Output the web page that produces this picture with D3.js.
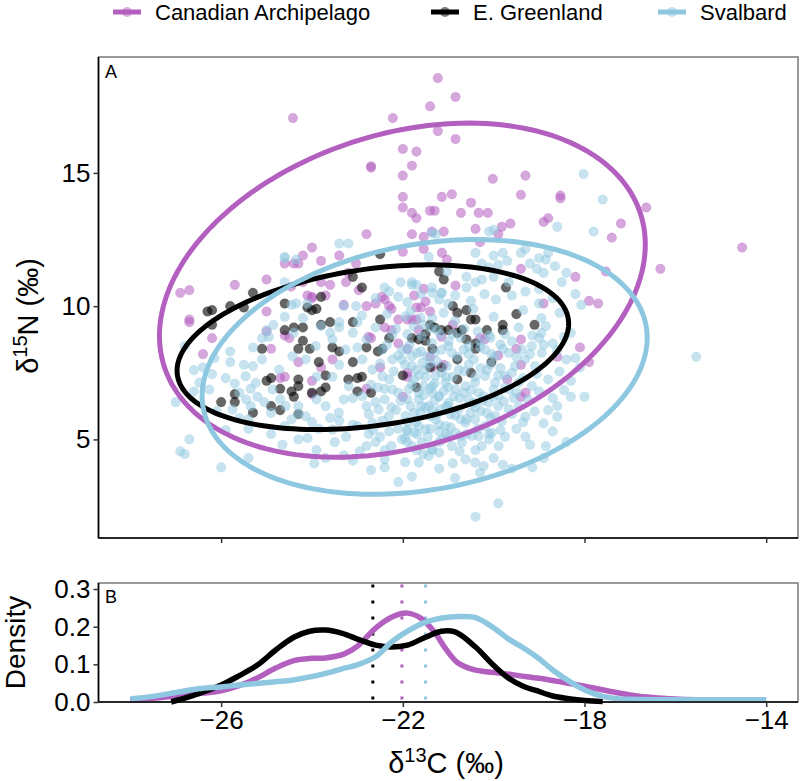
<!DOCTYPE html>
<html><head><meta charset="utf-8">
<script src="https://cdn.jsdelivr.net/npm/d3@7"></script>
<style>body{margin:0;background:#fff} svg{display:block} text{font-family:"Liberation Sans",Arial,sans-serif;fill:#000}</style>
</head><body><svg id="c" width="800" height="781"></svg>
<script>
const groups = ["Canadian Archipelago", "E. Greenland", "Svalbard"];
const colors = ["#B35FBF", "#000000", "#8EC7E0"];
const xTicks = [-26, -22, -18, -14];
const yTicksA = [5, 10, 15];
const yTicksB = [0, 0.1, 0.2, 0.3];

const caPoints = [[-21.23,18.56],[-21.4,17.5],[-24.42,17.06],[-22.22,17.06],[-21.23,16.57],[-22.0,15.9],[-21.7,15.8],[-22.7,15.25],[-22.7,15.2],[-21.8,15.27],[-22.0,14.9],[-22.0,14.1],[-21.14,14.1],[-22.0,13.7],[-21.8,13.5],[-21.7,13.3],[-21.4,13.58],[-21.3,13.58],[-22.8,12.7],[-21.8,12.7],[-21.54,12.6],[-21.36,12.8],[-21.1,12.8],[-22.0,12.04],[-21.54,12.15],[-21.14,12.0],[-24.0,12.2],[-24.2,11.9],[-24.4,11.6],[-24.3,11.6],[-24.6,11.6],[-23.8,11.7],[-23.4,11.9],[-23.03,11.6],[-23.2,11.25],[-23.25,10.9],[-25.0,11.0],[-25.7,10.8],[-26.9,10.5],[-26.7,10.6],[-23.6,10.8],[-22.46,10.35],[-21.75,10.4],[-21.54,10.65],[-24.1,10.4],[-24.46,10.73],[-24.0,10.35],
[-20.84,17.85],[-20.84,16.27],[-20.02,14.78],[-19.3,14.9],[-19.4,14.18],[-18.53,14.15],[-18.53,14.05],[-20.5,13.88],[-20.72,13.5],[-20.33,13.5],[-20.13,13.5],[-19.82,12.98],[-19.63,13.1],[-18.9,13.16],[-18.8,13.3],[-20.4,12.9],[-19.9,12.7],[-17.2,13.1],[-17.4,12.57],[-16.64,13.7],[-14.53,12.2],[-16.33,11.4],[-18.2,11.1],[-17.53,11.3],[-19.4,11.4],[-20.3,12.4],[-20.92,14.2],[-20.84,10.77],
[-26.7,9.5],[-26.7,9.4],[-26.2,8.8],[-26.4,8.2],[-25.0,9.8],[-25.0,9.05],[-24.2,10.9],[-23.8,10.9],[-24.0,10.3],[-23.7,10.4],[-24.7,7.3],[-24.6,7.35],[-24.0,7.2],[-24.0,6.7],[-24.3,7.9],[-24.6,8.9],[-24.5,8.8],[-23.3,10.05],[-22.97,10.6],[-22.8,10.0],[-22.6,10.1],[-22.4,10.25],[-22.3,10.0],[-22.25,9.9],[-22.1,9.5],[-21.9,9.5],[-21.8,9.5],[-21.7,9.5],[-21.6,9.95],[-21.4,9.8],[-21.5,10.17],[-22.75,8.85],[-22.7,8.8],[-22.4,9.2],[-22.25,9.1],[-22.1,8.6],[-21.9,8.4],[-22.5,7.7],[-22.8,6.9],[-21.9,7.5],[-23.8,7.7],[-23.55,8.0],[-24.9,8.4],[-21.4,8.1],[-21.35,7.7],[-21.15,8.85],
[-18.9,10.1],[-17.9,10.2],[-17.7,10.1],[-18.1,8.45],[-17.9,7.9],[-18.6,8.1],[-19.5,8.4],[-19.4,7.8],[-19.4,8.75],[-19.7,7.25],[-19.4,6.6],[-19.3,6.75],[-20.2,8.75],[-21.03,11.75],[-21.7,9.95],[-21.65,9.1],[-21.1,7.8],[-21.9,7.35],[-22.0,6.6],[-20.3,8.8],[-19.9,8.15],[-20.9,9.3]];

const egPoints = [[-22.5,11.95],[-25.3,10.5],[-22.9,10.7],[-23.1,11.1],[-23.8,10.35],[-21.2,11.3],[-21.1,11.0],
[-26.3,9.8],[-26.2,9.85],[-25.8,10.0],[-25.5,9.95],[-26.2,9.3],[-24.6,10.1],[-24.4,9.2],[-24.2,9.2],[-24.6,9.1],[-24.1,9.95],[-24.0,9.85],[-23.9,9.9],[-23.8,9.3],[-23.6,9.4],[-24.2,8.7],[-24.05,8.4],[-24.3,8.4],[-25.1,8.4],[-24.9,7.3],[-25.0,7.2],[-26.0,6.4],[-25.7,6.7],[-25.7,6.4],[-25.3,6.0],[-24.9,6.25],[-24.7,6.1],[-24.7,6.9],[-24.45,6.8],[-24.3,7.25],[-24.3,7.0],[-24.3,5.95],[-24.4,6.6],[-24.0,6.75],[-23.8,6.8],[-23.7,6.95],[-23.7,7.4],[-23.85,7.9],[-23.55,8.45],[-23.4,8.3],[-23.1,9.4],[-23.2,7.25],[-23.0,6.8],[-23.0,7.3],[-22.9,7.35],[-22.7,6.75],[-23.1,7.9],[-22.8,8.45],[-22.55,8.3],[-22.45,8.4],[-22.5,9.5],[-22.0,7.4],[-21.7,6.95],[-21.8,8.8],[-21.5,8.7],[-21.5,8.95],[-21.35,8.4],[-21.4,9.3],[-21.3,9.2],[-21.15,9.1],[-22.3,8.8],
[-19.73,10.7],[-19.5,9.7],[-19.1,9.3],[-20.9,10.0],[-20.8,9.75],[-20.6,9.85],[-20.5,9.5],[-20.4,9.5],[-21.0,9.1],[-20.8,9.0],[-20.7,9.1],[-20.6,8.75],[-20.4,8.6],[-20.4,8.4],[-20.15,9.1],[-19.8,9.1],[-19.8,9.3],[-20.05,7.9],[-20.8,8.0],[-20.8,7.25],[-20.5,7.5],[-21.65,8.75],[-21.15,7.7],[-21.4,7.7]];

const svPoints = [[-23.4,12.35],[-23.2,12.35],[-24.6,11.8],[-21.43,11.85],[-21.36,12.75],[-21.8,10.8],[-21.7,10.8],[-21.36,10.7],[-21.14,10.5],[-22.1,10.35],
[-18.02,14.96],[-17.6,14.0],[-18.6,12.98],[-17.8,12.8],[-20.1,12.8],[-20.0,12.87],[-20.4,12.0],[-20.0,11.9],[-19.8,12.0],[-19.7,11.7],[-19.9,11.55],[-19.4,12.0],[-19.3,12.15],[-19.2,11.6],[-19.0,11.8],[-18.85,11.75],[-18.8,12.0],[-18.65,11.5],[-18.4,11.25],[-18.5,10.9],[-18.2,10.45],[-19.05,11.4],[-18.9,11.25],[-20.1,11.45],[-20.0,11.1],[-20.26,11.0],[-20.4,10.9],[-20.6,11.1],[-20.6,10.7],[-21.03,11.3],[-21.27,12.7],[-20.26,11.6],[-19.67,10.9],
[-24.6,11.85],[-24.35,11.75],[-26.8,8.5],[-26.6,7.6],[-27.0,6.4],[-26.7,5.0],[-26.9,4.55],[-26.8,4.45],[-26.0,3.95],[-26.4,7.7],[-26.2,7.45],[-25.9,7.3],[-25.7,7.1],[-25.8,7.9],[-25.5,7.8],[-25.3,7.75],[-25.1,8.0],[-25.1,8.8],[-24.95,8.85],[-24.6,9.6],[-25.0,9.1],[-25.35,6.9],[-25.2,6.6],[-25.05,6.4],[-25.45,6.5],[-25.35,6.25],[-25.4,5.4],[-25.4,5.75],[-24.6,5.5],[-24.45,5.75],[-24.3,5.95],[-24.3,5.0],[-24.1,5.05],[-23.9,4.6],[-23.7,4.3],[-23.5,4.9],[-23.85,5.4],[-24.7,6.5],[-24.3,6.25],[-23.9,6.5],[-24.9,6.0],[-23.9,7.35],[-23.55,7.35],[-23.4,7.8],[-23.6,9.0],[-23.4,9.4],[-23.1,9.0],[-23.0,8.45],[-22.8,8.75],[-22.6,9.2],[-24.6,10.9],[-24.45,10.05],[-24.35,10.1],[-24.1,10.1],[-23.4,9.2],[-23.3,10.0],[-23.03,10.0],[-23.0,9.4],[-22.4,10.7],[-22.05,10.9],[-21.8,10.9],[-21.35,10.5],[-21.15,10.5],[-21.0,10.1],[-23.3,6.5],[-23.1,6.55],[-22.8,6.25],[-22.6,6.4],[-22.4,6.5],[-22.25,6.2],[-22.1,6.75],[-21.9,6.5],[-21.65,6.75],[-21.4,6.9],[-21.3,7.1],[-21.05,7.35],[-23.0,5.5],[-22.75,5.2],[-22.5,5.1],[-22.3,5.3],[-22.1,5.4],[-21.9,5.3],[-21.65,5.5],[-21.4,5.4],[-21.2,5.55],[-21.05,5.2],[-22.8,4.75],[-22.6,4.9],[-22.4,4.6],[-22.25,4.75],[-21.9,4.9],[-21.7,4.6],[-21.35,4.6],[-21.2,4.9],[-22.4,4.25],[-22.4,3.95],[-21.8,3.6],[-21.7,7.6],[-21.5,7.35],[-21.35,7.0],[-21.2,6.6],[-21.05,6.25],[-21.6,6.25],[-21.75,6.0],[-21.35,6.1],[-22.3,7.25],[-22.4,6.9],[-22.7,7.05],[-25.4,4.3],[-24.0,5.65],[-23.6,5.8],[-23.4,5.7],[-23.1,5.55],
[-22.45,8.37],[-22.23,8.0],[-22.01,8.37],[-21.8,8.12],[-21.57,7.87],[-22.89,8.0],[-22.67,7.62],[-22.45,7.37],[-22.23,6.87],[-23.19,7.0],[-22.89,6.62],[-22.53,6.12],[-22.31,5.87],[-22.67,5.62],[-22.23,8.93],[-23.26,8.37],[-23.92,8.5],[-24.14,8.0],[-24.43,8.12],[-24.72,7.62],[-24.87,6.87],[-25.24,7.12],[-24.58,6.25],[-24.14,5.87],[-23.7,6.25],[-23.41,6.0],[-23.55,5.37],[-25.75,6.12],[-25.6,6.75],[-25.46,7.37],[-26.48,7.13],[-26.26,6.87],
[-18.07,10.05],[-19.0,10.1],[-18.85,9.25],[-18.7,8.6],[-19.0,8.8],[-18.3,9.0],[-18.2,8.05],[-18.1,7.7],[-18.3,6.6],[-18.0,6.6],[-18.6,6.25],[-18.8,6.1],[-18.9,5.6],[-19.3,5.85],[-19.3,5.1],[-19.75,5.1],[-20.1,5.0],[-20.4,4.6],[-20.0,4.3],[-20.9,4.1],[-21.2,4.5],[-19.9,2.6],[-20.4,2.1],[-19.6,3.9],[-15.54,8.1],[-18.85,4.75],
[-21.94,9.62],[-21.76,9.25],[-21.58,8.87],[-21.36,8.62],[-21.14,8.37],[-20.92,8.25],[-20.66,8.37],[-20.44,8.0],[-20.19,8.37],[-19.97,8.12],[-19.67,8.25],[-19.38,8.37],[-19.16,8.5],[-18.94,8.25],
[-22.02,8.0],[-21.8,7.75],[-21.5,7.63],[-21.28,7.38],[-21.06,7.13],[-20.84,6.88],[-20.62,7.0],[-20.41,7.13],[-20.19,7.38],[-19.97,7.13],[-19.75,7.38],[-19.53,7.75],[-19.31,8.0],[-19.09,7.75],
[-21.87,6.88],[-21.65,6.5],[-21.43,6.25],[-21.21,6.63],[-20.99,6.38],[-20.77,6.13],[-20.55,6.5],[-20.33,6.75],[-20.11,6.38],[-19.89,6.63],[-19.67,6.88],[-19.45,7.13],[-19.16,7.0],
[-21.94,5.88],[-21.72,5.63],[-21.5,5.38],[-21.28,5.75],[-21.06,5.5],[-20.84,5.25],[-20.62,5.63],[-20.41,5.75],[-20.19,5.5],[-19.97,5.88],[-19.67,6.13],[-19.45,6.25],
[-22.02,5.0],[-21.8,4.75],[-21.58,4.88],[-21.36,4.63],[-21.14,5.0],[-20.92,4.75],[-20.7,4.88],[-20.48,5.13],[-20.26,4.75],[-19.89,4.75],
[-21.65,4.13],[-21.43,4.38],[-20.62,4.25],[-20.41,4.13],[-20.22,4.0],
[-21.83,9.81],[-21.61,9.56],[-21.39,9.18],[-21.17,8.93],[-20.99,8.68],[-20.73,8.81],[-20.55,8.5],[-20.29,8.68],[-20.07,8.81],[-19.85,8.56],[-19.6,8.68],
[-21.9,8.37],[-21.68,8.25],[-21.47,8.12],[-21.25,7.93],[-21.03,7.75],[-20.77,7.62],[-20.55,7.81],[-20.29,7.68],[-20.07,7.81],[-19.85,7.68],
[-21.76,7.25],[-21.54,7.0],[-21.36,6.75],[-21.1,6.81],[-20.88,6.62],[-20.66,6.75],[-20.44,6.37],[-20.22,6.62],[-20.0,6.87],[-19.78,6.43],[-19.56,6.56],
[-21.83,6.25],[-21.61,6.0],[-21.39,5.87],[-21.17,6.12],[-20.95,5.94],[-20.73,5.75],[-20.51,6.0],[-20.29,6.06],[-20.07,5.81],[-19.82,5.69],
[-21.9,5.37],[-21.68,5.19],[-20.99,5.12],[-20.73,5.12],[-20.33,5.12],[-20.04,5.25],
[-22.35,9.7],[-21.1,9.75],[-20.45,9.9],[-20.0,9.6],[-19.35,9.85],[-18.95,9.55],[-18.55,9.75],[-20.85,9.45],[-21.35,9.55],
[-22.15,9.15],[-21.9,8.95],[-21.55,9.3],[-21.25,9.1],[-20.9,8.95],[-20.65,9.15],[-20.35,9.05],[-20.1,8.9],[-19.75,8.95],[-19.45,9.2],[-19.15,8.9],[-18.45,8.85],[-18.95,9.0],
[-22.35,8.55],[-22.1,8.15],[-21.85,8.55],[-21.6,8.3],[-21.3,8.25],[-21.0,8.5],[-20.8,8.1],[-20.55,8.2],[-20.3,8.45],[-20.05,8.2],[-19.8,8.4],[-19.5,8.1],[-19.2,8.2],[-18.9,8.55],[-18.6,8.35],[-18.4,8.0],
[-22.5,7.85],[-22.2,7.55],[-21.95,7.8],[-21.65,7.4],[-21.4,7.85],[-21.15,7.5],[-20.9,7.35],[-20.65,7.55],[-20.4,7.35],[-20.15,7.6],[-19.9,7.4],[-19.6,7.5],[-19.35,7.3],[-19.05,7.45],[-18.8,7.25],[-18.55,7.55],[-18.3,7.2],
[-22.55,6.95],[-22.05,6.45],[-21.8,7.05],[-21.55,6.65],[-21.3,6.45],[-21.0,6.95],[-20.75,6.55],[-20.5,6.85],[-20.25,6.45],[-20.0,6.6],[-19.75,6.95],[-19.5,6.75],[-19.25,6.5],[-19.0,6.8],[-18.7,6.55],[-18.45,6.85],
[-22.75,5.95],[-22.45,5.7],[-22.15,6.1],[-21.9,5.65],[-21.5,6.2],[-21.25,5.95],[-21.0,6.25],[-20.85,5.9],[-20.6,5.75],[-20.4,6.2],[-20.15,6.0],[-19.9,6.25],[-19.6,5.95],[-19.35,5.65],[-19.1,6.05],[-18.6,5.85],
[-23.25,5.1],[-22.95,4.55],[-22.65,5.35],[-21.95,5.05],[-21.75,5.25],[-21.45,5.1],[-21.2,5.3],[-20.95,5.45],[-20.6,5.2],[-20.35,5.4],[-20.1,5.2],[-19.85,5.35],[-19.5,5.4],[-19.2,4.8],[-18.7,5.3],[-18.4,4.9],[-20.75,4.55],[-21.55,4.45],
[-23.1,4.2],[-22.7,3.85],[-21.95,4.15],[-21.2,3.9],[-20.85,3.55],[-20.3,3.75],[-19.8,4.05],[-19.15,3.95],[-18.9,4.3],[-22.1,3.4],
[-26.6,6.8],[-26.1,6.05],[-25.9,5.35],[-25.6,5.8],[-25.8,8.3],[-26.15,8.05],[-25.3,8.45],[-24.85,9.3],[-24.4,9.0],[-24.2,9.55],[-24.9,5.2],[-24.65,4.8],[-23.95,4.1],[-23.3,4.4],[-23.8,9.25],[-23.55,8.75],[-22.9,9.65],[-22.6,10.3],[-22.3,10.55],[-21.9,10.15],[-21.6,10.45],[-21.2,10.25],[-20.85,10.4],[-20.5,10.2],[-20.2,10.45],[-19.95,10.25],[-19.6,10.4],[-19.3,10.55],[-19.0,10.65],[-18.7,10.3]];

const ellipseCenterX = [-22.01, -22.66, -21.52];
const ellipseCenterY = [10.6, 8.46, 7.72];
const ellipseSxx = [28.6, 18.58, 24.0];
const ellipseSyy = [39.3, 9.55, 22.85];
const ellipseSxy = [9.15, 3.80, 5.35];

const caDensX = [-28,-27.5,-27,-26.5,-26,-25.5,-25.2,-24.8,-24.4,-24.0,-23.7,-23.3,-23.0,-22.6,-22.25,-21.9,-21.6,-21.3,-21.05,-20.8,-20.5,-20.2,-19.8,-19.45,-19.0,-18.5,-18.0,-17.5,-17.0,-16.5,-16.0,-15.5,-15.0,-14.5,-14.0];
const caDensY = [0.006,0.01,0.016,0.022,0.03,0.048,0.064,0.09,0.11,0.116,0.117,0.127,0.148,0.196,0.225,0.236,0.222,0.185,0.14,0.105,0.088,0.081,0.076,0.07,0.063,0.053,0.042,0.03,0.019,0.012,0.008,0.006,0.005,0.005,0.005];
const egDensX = [-27.1,-26.8,-26.5,-26.0,-25.6,-25.2,-24.8,-24.4,-24.05,-23.7,-23.35,-22.95,-22.6,-22.25,-21.9,-21.5,-21.15,-20.85,-20.4,-20.05,-19.7,-19.35,-19.05,-18.7,-18.35,-18.0,-17.6];
const egDensY = [0.0,0.01,0.022,0.045,0.07,0.098,0.138,0.172,0.188,0.191,0.183,0.165,0.151,0.146,0.151,0.172,0.188,0.186,0.146,0.103,0.066,0.042,0.03,0.016,0.009,0.004,0.001];
const svDensX = [-28,-27.5,-27,-26.5,-26,-25.6,-25.16,-24.8,-24.44,-24.07,-23.7,-23.34,-22.97,-22.6,-22.24,-21.87,-21.5,-21.14,-20.77,-20.4,-20.04,-19.67,-19.3,-19.0,-18.7,-18.27,-17.96,-17.6,-17.27,-17.0,-16.5,-16,-15,-14];
const svDensY = [0.008,0.015,0.025,0.035,0.04,0.045,0.05,0.054,0.058,0.066,0.076,0.088,0.1,0.12,0.16,0.19,0.212,0.223,0.227,0.224,0.2,0.167,0.14,0.115,0.085,0.05,0.03,0.015,0.009,0.007,0.006,0.006,0.006,0.006];
const groupMeans = [-22.02, -22.66, -21.5];

const svg = d3.select("#c");
const L = 98.5, R = 798;
const topA = 57, botA = 538, topB = 583, botB = 702;
const x = d3.scaleLinear().domain([-28.7, -13.3]).range([L, R]);
const yA = d3.scaleLinear().domain([1.3, 19.35]).range([botA, topA]);
const yB = d3.scaleLinear().domain([0, 0.316]).range([botB, topB]);

const pointSets = [caPoints, egPoints, svPoints];
const densX = [caDensX, egDensX, svDensX];
const densY = [caDensY, egDensY, svDensY];
const ptOpacity = [0.55, 0.6, 0.5];

// Panel A
const gA = svg.append("g");
gA.append("rect").attr("x", L).attr("y", topA).attr("width", R - L).attr("height", botA - topA)
  .attr("fill", "#fff").attr("stroke", "#7a7a7a").attr("stroke-width", 1.5);
const clipA = svg.append("clipPath").attr("id", "clipA");
clipA.append("rect").attr("x", L).attr("y", topA).attr("width", R - L).attr("height", botA - topA);
const plotA = gA.append("g").attr("clip-path", "url(#clipA)");
pointSets.forEach((pts, i) => {
  plotA.append("g").selectAll("circle").data(pts).join("circle")
    .attr("cx", d => x(d[0])).attr("cy", d => yA(d[1])).attr("r", 4.8)
    .attr("fill", colors[i]).attr("fill-opacity", ptOpacity[i])
    .attr("stroke", colors[i]).attr("stroke-opacity", ptOpacity[i] * 0.6).attr("stroke-width", 0.6);
});
const angles = d3.range(0, 361, 2).map(a => a * Math.PI / 180);
groups.forEach((g, i) => {
  const l11 = Math.sqrt(ellipseSxx[i]);
  const l21 = ellipseSxy[i] / l11;
  const l22 = Math.sqrt(ellipseSyy[i] - l21 * l21);
  const ring = angles.map(t => [ellipseCenterX[i] + l11 * Math.cos(t), ellipseCenterY[i] + l21 * Math.cos(t) + l22 * Math.sin(t)]);
  plotA.append("path").datum(ring)
    .attr("d", d3.line().x(d => x(d[0])).y(d => yA(d[1])).curve(d3.curveLinearClosed))
    .attr("fill", "none").attr("stroke", colors[i]).attr("stroke-width", 5);
});
gA.append("line").attr("x1", L).attr("x2", L).attr("y1", topA).attr("y2", botA).attr("stroke", "#000").attr("stroke-width", 1.6);
gA.append("line").attr("x1", L).attr("x2", R).attr("y1", botA).attr("y2", botA).attr("stroke", "#000").attr("stroke-width", 1.6);
const axA = gA.append("g").attr("transform", `translate(${L},0)`).call(d3.axisLeft(yA).tickValues(yTicksA).tickSize(5).tickPadding(3));
axA.select(".domain").remove();
axA.selectAll("text").style("font-size", "26px").attr("font-family", null);
axA.selectAll("line").attr("stroke", "#333").attr("stroke-width", 1.5);
const axAx = gA.append("g").attr("transform", `translate(0,${botA})`).call(d3.axisBottom(x).tickValues(xTicks).tickSize(5).tickFormat(""));
axAx.select(".domain").remove();
axAx.selectAll("line").attr("stroke", "#333").attr("stroke-width", 1.5);
gA.append("text").attr("x", 105).attr("y", 78).style("font-size", "18px").text("A");
const yt = gA.append("text").attr("transform", `translate(38,316) rotate(-90)`).attr("text-anchor", "middle").style("font-size", "29px");
yt.append("tspan").text("δ");
yt.append("tspan").attr("dy", -11).style("font-size", "20px").text("15");
yt.append("tspan").attr("dy", 11).text("N (‰)");

// Panel B
const gB = svg.append("g");
gB.append("rect").attr("x", L).attr("y", topB).attr("width", R - L).attr("height", botB - topB)
  .attr("fill", "#fff").attr("stroke", "#7a7a7a").attr("stroke-width", 1.5);
const lineGen = d3.line().x(d => x(d[0])).y(d => yB(d[1])).curve(d3.curveCatmullRom);
groups.forEach((g, i) => {
  gB.append("line").attr("x1", x(groupMeans[i])).attr("x2", x(groupMeans[i]))
    .attr("y1", yB(0.312)).attr("y2", botB).attr("stroke", colors[i]).attr("stroke-width", 3).attr("stroke-dasharray", "3,13");
});
groups.forEach((g, i) => {
  const pts = densX[i].map((v, k) => [v, densY[i][k]]);
  gB.append("path").datum(pts).attr("d", lineGen).attr("fill", "none")
    .attr("stroke", colors[i]).attr("stroke-width", 5.5).attr("stroke-linejoin", "round");
});
gB.append("line").attr("x1", L).attr("x2", L).attr("y1", topB).attr("y2", botB).attr("stroke", "#000").attr("stroke-width", 1.6);
gB.append("line").attr("x1", L).attr("x2", R).attr("y1", botB).attr("y2", botB).attr("stroke", "#000").attr("stroke-width", 1.6);
const axB = gB.append("g").attr("transform", `translate(${L},0)`).call(d3.axisLeft(yB).tickValues(yTicksB).tickFormat(d3.format(".1f")).tickSize(5).tickPadding(3));
axB.select(".domain").remove();
axB.selectAll("text").style("font-size", "26px").attr("font-family", null);
axB.selectAll("line").attr("stroke", "#333").attr("stroke-width", 1.5);
const axBx = gB.append("g").attr("transform", `translate(0,${botB})`).call(d3.axisBottom(x).tickValues(xTicks).tickSize(5).tickPadding(4));
axBx.select(".domain").remove();
axBx.selectAll("text").style("font-size", "26px").attr("font-family", null);
axBx.selectAll("line").attr("stroke", "#333").attr("stroke-width", 1.5);
gB.append("text").attr("x", 105).attr("y", 603).style("font-size", "18px").text("B");
gB.append("text").attr("transform", `translate(25,${(topB + botB) / 2}) rotate(-90)`).attr("text-anchor", "middle").style("font-size", "28px").text("Density");
const xt = gB.append("text").attr("x", 446).attr("y", 773).attr("text-anchor", "middle").style("font-size", "29px");
xt.append("tspan").text("δ");
xt.append("tspan").attr("dy", -11).style("font-size", "20px").text("13");
xt.append("tspan").attr("dy", 11).text("C (‰)");

// Legend
const legX = [113, 431, 658];
const leg = svg.append("g");
groups.forEach((g, i) => {
  leg.append("line").attr("x1", legX[i]).attr("x2", legX[i] + 28).attr("y1", 12).attr("y2", 12)
    .attr("stroke", colors[i]).attr("stroke-width", 5);
  leg.append("circle").attr("cx", legX[i] + 14).attr("cy", 12).attr("r", 5).attr("fill", colors[i]).attr("fill-opacity", 0.5);
  leg.append("text").attr("x", legX[i] + 42).attr("y", 20).style("font-size", "22px").text(g);
});
</script></body></html>
